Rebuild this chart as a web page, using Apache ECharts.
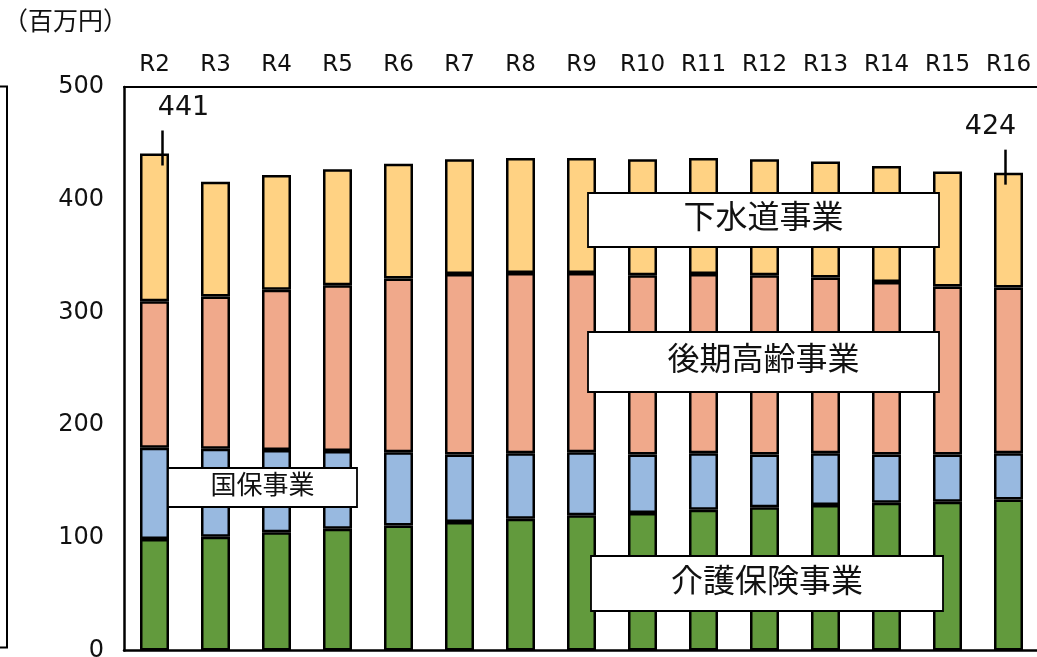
<!DOCTYPE html>
<html lang="ja">
<head>
<meta charset="utf-8">
<title>事業別 繰出金の推移</title>
<script src="https://cdn.jsdelivr.net/npm/echarts@6/dist/echarts.min.js"></script>
<style>
  html, body { margin: 0; padding: 0; background: #fff; }
  #chart { width: 1037px; height: 657px; }
</style>
</head>
<body>
<div id="chart"></div>
<script>
// Fiscal years (令和)
const categories = ['R2', 'R3', 'R4', 'R5', 'R6', 'R7', 'R8', 'R9', 'R10', 'R11', 'R12', 'R13', 'R14', 'R15', 'R16'];

// Amounts per business, in millions of yen (stacked bottom → top)
const kaigoHoken = [99, 101, 105, 108, 111, 114, 117, 120, 122, 125, 127, 129, 131, 132, 134];   // 介護保険事業
const kokuho     = [81, 78, 73, 69, 65, 60, 58, 56, 52, 50, 47, 46, 43, 42, 41];                  // 国保事業
const kokiKorei  = [130, 135, 142, 147, 154, 160, 160, 159, 159, 159, 159, 156, 153, 149, 147];  // 後期高齢事業
const gesuido    = [131, 102, 102, 103, 102, 102, 102, 102, 103, 103, 103, 103, 103, 102, 102];  // 下水道事業

// Years whose column total is annotated
const totalLabelYears = ['R2', 'R16'];

// Value axis ticks
const yMin = 0, yMax = 500, yStep = 100;

const FONT = '"DejaVu Sans", "Noto Sans CJK JP", sans-serif';
const INK = '#111';

const totals = categories.map((_, i) => kaigoHoken[i] + kokuho[i] + kokiKorei[i] + gesuido[i]);
const totalPoints = totalLabelYears.map(y => {
  const i = categories.indexOf(y);
  return [i, totals[i]];
});

function makeBar(name, data, color) {
  return {
    name: name,
    type: 'bar',
    stack: 'total',
    barWidth: 29,
    data: data,
    itemStyle: { color: color, borderColor: '#000', borderWidth: 2.5 },
    emphasis: { disabled: true },
    z: 2
  };
}

// Boxed series captions placed over the columns
function captionBox(text, x, y, w, h, size) {
  return {
    type: 'group',
    x: x, y: y, z: 100,
    children: [
      { type: 'rect', z: 100, shape: { x: 0, y: 0, width: w, height: h },
        style: { fill: '#fff', stroke: '#000', lineWidth: 1.8 } },
      { type: 'text', z: 101, x: w / 2, y: h / 2,
        style: { text: text, fontSize: size, fontFamily: FONT, fill: INK, align: 'center', verticalAlign: 'middle' } }
    ]
  };
}

const chart = echarts.init(document.getElementById('chart'), null, { renderer: 'canvas' });

chart.setOption({
  backgroundColor: '#fff',
  animation: false,
  grid: { left: 124, right: -2, top: 87, bottom: 6.5, containLabel: false, outerBoundsMode: 'none' },
  xAxis: [
    {
      type: 'category',
      data: categories,
      position: 'top',
      axisLine: { onZero: false, lineStyle: { color: '#000', width: 2 } },
      axisTick: { show: false },
      axisLabel: { color: INK, fontSize: 23, fontFamily: FONT, margin: 10 }
    },
    {
      type: 'category',
      data: categories,
      position: 'bottom',
      axisLine: { onZero: false, lineStyle: { color: '#000', width: 2.5 } },
      axisTick: { show: false },
      axisLabel: { show: false }
    }
  ],
  yAxis: {
    type: 'value',
    min: yMin, max: yMax, interval: yStep,
    axisLine: { show: true, lineStyle: { color: '#000', width: 2.5 } },
    axisTick: { show: false },
    splitLine: { show: false },
    axisLabel: { color: INK, fontSize: 24, fontFamily: FONT, margin: 20 }
  },
  series: [
    makeBar('介護保険事業', kaigoHoken, '#629A3D'),
    makeBar('国保事業', kokuho, '#98B9E0'),
    makeBar('後期高齢事業', kokiKorei, '#F0A98B'),
    makeBar('下水道事業', gesuido, '#FFD283'),
    {
      // Column totals with leader lines
      name: '合計',
      type: 'custom',
      data: totalPoints,
      clip: false,
      z: 10,
      renderItem: function (params, api) {
        const idx = api.value(0);
        const v = api.value(1);
        const p = api.coord([idx, v]);
        const first = idx === 0;
        const dxLine = first ? 8 : -3;
        const dxText = first ? 29 : -18;
        return {
          type: 'group',
          children: [
            { type: 'line',
              shape: { x1: p[0] + dxLine, y1: p[1] - 23, x2: p[0] + dxLine, y2: p[1] + 12 },
              style: { stroke: '#000', lineWidth: 2.5 } },
            { type: 'text', x: p[0] + dxText, y: p[1] - 46,
              style: { text: String(v), fontSize: 27, fontFamily: FONT, fill: INK,
                       align: 'center', verticalAlign: 'middle' } }
          ]
        };
      }
    }
  ],
  graphic: [
    { type: 'text', left: 3, top: 11, z: 100,
      style: { text: '（百万円）', fontSize: 25, fontFamily: FONT, fill: INK } },
    // edge of the neighbouring panel on the left
    { type: 'rect', z: 100, shape: { x: -20, y: 86.5, width: 27, height: 561 },
      style: { fill: 'none', stroke: '#000', lineWidth: 2 } },
    captionBox('下水道事業', 588, 193, 351, 54, 32),
    captionBox('後期高齢事業', 588, 332, 351, 60, 32),
    captionBox('国保事業', 168, 468, 189, 39, 26),
    captionBox('介護保険事業', 591, 556, 352, 55, 32)
  ]
});
</script>
</body>
</html>
